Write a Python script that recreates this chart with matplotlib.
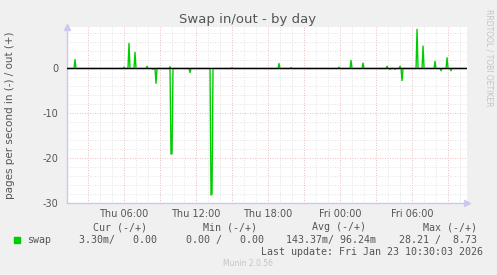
import numpy as np
import matplotlib
matplotlib.use("Agg")
import matplotlib.pyplot as plt
from matplotlib.ticker import MultipleLocator, FixedLocator

plt.rcParams["axes.unicode_minus"] = False

# hours since Thu 00:00, one sample per 5 minutes
START_H = 1.25
END_H = 34.58
STEP_H = 5 / 60.0

# swap out (+) spikes: time (h), value
out_times = [1.92, 6.0, 6.42, 6.92, 7.92, 9.83, 15.0, 18.92, 19.92, 23.92,
             24.92, 25.92, 27.92, 29.0, 30.42, 30.92, 31.92, 32.92]
out_vals = [2.0, 0.3, 5.6, 3.6, 0.5, 0.4, 0.2, 1.1, 0.2, 0.3,
            1.8, 1.2, 0.5, 0.5, 8.73, 5.0, 1.6, 2.4]

# swap in (-) spikes: time (h), value
in_times = [8.42, 8.67, 9.92, 10.0, 11.5, 13.25, 13.33, 28.17, 28.58, 29.17, 32.42, 33.25]
in_vals = [-0.2, -3.3, -19.1, -19.0, -0.9, -28.21, -28.0, -0.2, -0.2, -2.7, -0.5, -0.5]

tick_hours = [6, 12, 18, 24, 30]
tick_labels = ["Thu 06:00", "Thu 12:00", "Thu 18:00", "Fri 00:00", "Fri 06:00"]

t = np.arange(START_H, END_H, STEP_H)
out_series = np.zeros_like(t)
in_series = np.zeros_like(t)
for h, v in zip(out_times, out_vals):
    out_series[np.argmin(np.abs(t - h))] = v
for h, v in zip(in_times, in_vals):
    in_series[np.argmin(np.abs(t - h))] = v

BG = "#f0f0f0"
TXT = "#555555"
GREEN = "#00cc00"
AXCOL = "#c8c8f0"

fig = plt.figure(figsize=(4.97, 2.75), dpi=100, facecolor=BG)
ax = fig.add_axes([67 / 497, 1 - 203 / 275, 400 / 497, 176 / 275])
ax.set_facecolor("white")

ax.set_xlim(START_H, END_H)
ax.set_ylim(-30, 9.25)

# grid
ax.xaxis.set_major_locator(FixedLocator(tick_hours))
ax.set_xticklabels(tick_labels)
for h in np.arange(3, 35, 1):
    col = "#e2a8a8" if h % 3 == 0 else "#dadada"
    ax.axvline(h, color=col, lw=0.6, ls=(0, (1, 2)), zorder=1)
for y in np.arange(-30, 10, 2):
    col = "#e2a8a8" if y % 10 == 0 else "#dadada"
    ax.axhline(y, color=col, lw=0.6, ls=(0, (1, 2)), zorder=1)

ax.yaxis.set_major_locator(MultipleLocator(10))
ax.tick_params(length=0, labelsize=7, colors=TXT, pad=4)
ax.tick_params(axis="y", pad=6)

for s in ["top", "right"]:
    ax.spines[s].set_visible(False)
for s in ["left", "bottom"]:
    ax.spines[s].set_color(AXCOL)
    ax.spines[s].set_linewidth(1)
ax.plot([START_H], [9.25], marker="^", color=AXCOL, ms=5, clip_on=False, zorder=5)
ax.plot([END_H], [-30], marker=">", color=AXCOL, ms=5, clip_on=False, zorder=5)

ax.plot(t, out_series, color=GREEN, lw=1, zorder=3)
ax.plot(t, in_series, color=GREEN, lw=1, zorder=3)
ax.axhline(0, color="black", lw=0.9, zorder=4)

fig.text(248 / 497, 1 - 19 / 275, "Swap in/out - by day", ha="center", va="center",
         fontsize=9.5, color=TXT)
fig.text(10 / 497, 1 - 115 / 275, "pages per second in (-) / out (+)", rotation=90,
         ha="center", va="center", fontsize=7.5, color=TXT)
fig.text(489 / 497, 1 - 58 / 275, "RRDTOOL / TOBI OETIKER", rotation=-90,
         ha="center", va="center", fontsize=5.5, color="#c4c4c4")

mono = dict(family="DejaVu Sans Mono", fontsize=7.2, color=TXT, va="center")
hy = 1 - 227.5 / 275
vy = 1 - 240 / 275
for xr, s in [(147, "Cur (-/+)"), (257, "Min (-/+)"), (366, "Avg (-/+)"), (477, "Max (-/+)")]:
    fig.text(xr / 497, hy, s, ha="right", **mono)
for xr, s in [(157, "3.30m/   0.00"), (264, "0.00 /   0.00"),
              (376, "143.37m/ 96.24m"), (477, "28.21 /  8.73")]:
    fig.text(xr / 497, vy, s, ha="right", **mono)
fig.patches.append(plt.Rectangle((14 / 497, 1 - 243 / 275), 6 / 497, 6 / 275,
                                 transform=fig.transFigure, color=GREEN))
fig.text(27 / 497, vy, "swap", ha="left", **mono)
fig.text(483 / 497, 1 - 252 / 275, "Last update: Fri Jan 23 10:30:03 2026", ha="right", **mono)
fig.text(248 / 497, 1 - 264 / 275, "Munin 2.0.56", ha="center", va="center",
         fontsize=5.5, color="#c4c4c4")

fig.savefig("out.png", dpi=100, facecolor=BG)
